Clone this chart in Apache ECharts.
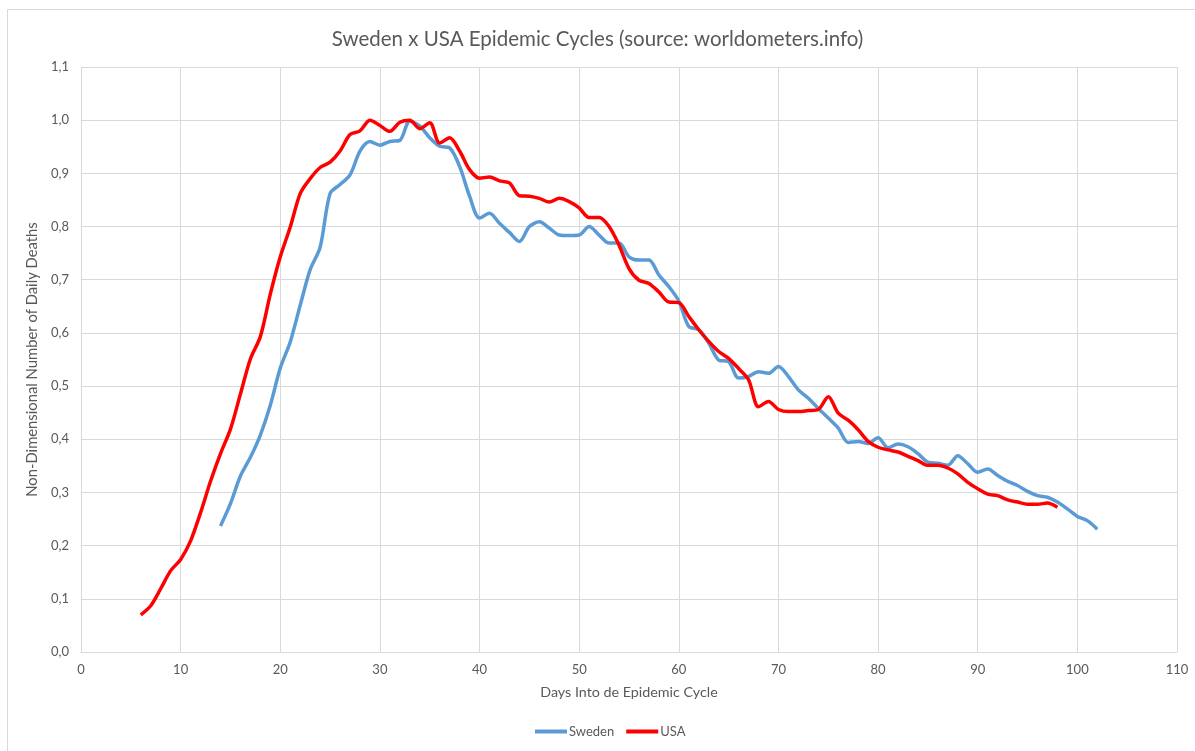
<!DOCTYPE html>
<html>
<head>
<meta charset="utf-8">
<title>Sweden x USA Epidemic Cycles</title>
<script src="https://cdn.jsdelivr.net/npm/echarts@6/dist/echarts.min.js"></script>
<style>
  html, body { margin: 0; padding: 0; background: #fff; }
  #chart { width: 1195px; height: 751px; }
</style>
</head>
<body>
<div id="chart"></div>
<script>
// first day of each series on the x axis
const swedenStart = 14
const usaStart = 6

// Sweden, days 14..102
const swedenValues = [
  0.237, 0.279, 0.331, 0.366, 0.408, 0.464, 0.534, 0.583, 0.652, 0.719,
  0.761, 0.862, 0.879, 0.897, 0.942, 0.960, 0.953, 0.960, 0.962, 0.998,
  0.989, 0.967, 0.951, 0.948, 0.913, 0.857, 0.816, 0.825, 0.806, 0.789,
  0.772, 0.800, 0.809, 0.797, 0.784, 0.783, 0.784, 0.800, 0.784, 0.769,
  0.769, 0.743, 0.737, 0.737, 0.709, 0.687, 0.660, 0.612, 0.606, 0.581,
  0.549, 0.546, 0.515, 0.518, 0.527, 0.524, 0.537, 0.518, 0.493, 0.477,
  0.458, 0.440, 0.421, 0.394, 0.396, 0.392, 0.403, 0.384, 0.391, 0.386,
  0.373, 0.357, 0.355, 0.351, 0.369, 0.354, 0.338, 0.344, 0.332, 0.321,
  0.313, 0.302, 0.294, 0.291, 0.282, 0.269, 0.255, 0.247, 0.231
]

// USA, days 6..98
const usaValues = [
  0.070, 0.087, 0.119, 0.153, 0.174, 0.209, 0.262, 0.321, 0.373, 0.419,
  0.485, 0.551, 0.593, 0.673, 0.743, 0.799, 0.862, 0.890, 0.911, 0.921,
  0.942, 0.973, 0.980, 1.000, 0.990, 0.979, 0.996, 1.000, 0.984, 0.995,
  0.957, 0.967, 0.942, 0.907, 0.891, 0.893, 0.886, 0.882, 0.858, 0.857,
  0.853, 0.846, 0.853, 0.847, 0.835, 0.817, 0.817, 0.800, 0.765, 0.721,
  0.699, 0.693, 0.677, 0.658, 0.657, 0.631, 0.606, 0.584, 0.565, 0.552,
  0.533, 0.512, 0.461, 0.471, 0.456, 0.452, 0.452, 0.454, 0.456, 0.480,
  0.449, 0.436, 0.418, 0.396, 0.385, 0.380, 0.376, 0.368, 0.360, 0.351,
  0.351, 0.346, 0.335, 0.319, 0.307, 0.297, 0.294, 0.286, 0.282, 0.278,
  0.278, 0.280, 0.272
]

const textColor = '#595959'
const gridColor = '#d9d9d9'
const fontFamily = 'Lato, "Open Sans", sans-serif'

function toPairs(start, values) {
  return values.map((v, i) => [start + i, v])
}

const chart = echarts.init(document.getElementById('chart'))

chart.setOption({
  backgroundColor: '#fff',
  animation: false,
  textStyle: { fontFamily: fontFamily },
  title: {
    text: 'Sweden x USA Epidemic Cycles (source: worldometers.info)',
    left: 'center',
    top: 24,
    textStyle: {
      color: textColor,
      fontSize: 20.5,
      fontWeight: 'normal',
      fontFamily: fontFamily
    }
  },
  graphic: [
    {
      type: 'rect',
      silent: true,
      shape: { x: 7.5, y: 9.5, width: 1300, height: 900 },
      style: { fill: 'none', stroke: gridColor, lineWidth: 1 }
    }
  ],
  legend: {
    bottom: 8,
    left: 530,
    icon: 'rect',
    itemWidth: 32,
    itemHeight: 4,
    itemGap: 12,
    textStyle: { color: textColor, fontSize: 13, padding: [0, 0, 0, -3] },
    data: ['Sweden', 'USA']
  },
  grid: {
    left: 81,
    right: 18,
    top: 67,
    bottom: 99,
    containLabel: false
  },
  xAxis: {
    type: 'value',
    min: 0,
    max: 110,
    interval: 10,
    name: 'Days Into de Epidemic Cycle',
    nameLocation: 'middle',
    nameGap: 33,
    nameTextStyle: { color: textColor, fontSize: 14.3 },
    axisLine: { show: true, lineStyle: { color: gridColor } },
    axisTick: { show: false },
    axisLabel: { color: textColor, fontSize: 13, margin: 11 },
    splitLine: { show: true, lineStyle: { color: gridColor } }
  },
  yAxis: {
    type: 'value',
    min: 0,
    max: 1.1,
    interval: 0.1,
    name: 'Non-Dimensional Number of Daily Deaths',
    nameLocation: 'middle',
    nameGap: 37,
    nameTextStyle: { color: textColor, fontSize: 14.8 },
    axisLine: { show: true, lineStyle: { color: gridColor } },
    axisTick: { show: false },
    axisLabel: {
      color: textColor,
      fontSize: 13,
      margin: 12,
      formatter: v => v.toFixed(1).replace('.', ',')
    },
    splitLine: { show: true, lineStyle: { color: gridColor } }
  },
  series: [
    {
      name: 'Sweden',
      type: 'line',
      smooth: 0.3,
      showSymbol: false,
      color: '#5b9bd5',
      lineStyle: { width: 3.5, color: '#5b9bd5' },
      data: toPairs(swedenStart, swedenValues)
    },
    {
      name: 'USA',
      type: 'line',
      smooth: 0.3,
      showSymbol: false,
      color: '#ff0000',
      lineStyle: { width: 3.5, color: '#ff0000' },
      data: toPairs(usaStart, usaValues)
    }
  ]
})
</script>
</body>
</html>
